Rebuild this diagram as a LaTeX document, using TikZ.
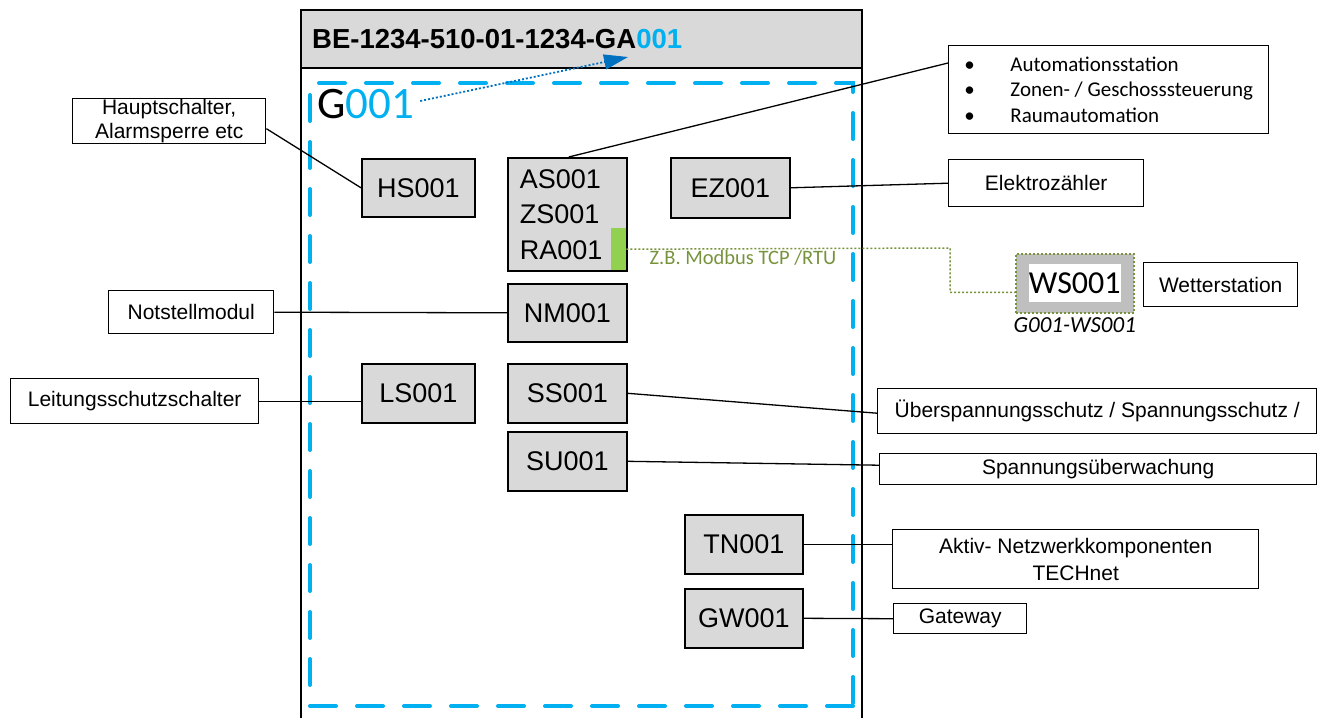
\documentclass[tikz,border=0pt]{standalone}
\usepackage{fontspec}
\setmainfont{Liberation Sans}
\newfontfamily\calibri{Carlito}
\usetikzlibrary{arrows.meta, positioning}

\definecolor{gafill}{HTML}{D9D9D9}
\definecolor{gablue}{HTML}{00B0F0}
\definecolor{refblue}{HTML}{0070C0}
\definecolor{busgreen}{HTML}{77933C}
\definecolor{bargreen}{HTML}{92D050}
\definecolor{wsgray}{HTML}{BFBFBF}

\begin{document}
\begin{tikzpicture}[x=1pt, y=-1pt,
  gbox/.style={rectangle, draw=black, line width=1.6pt, fill=gafill, anchor=north west,
               inner sep=0pt, font=\fontsize{27}{32}\selectfont},
  lbox/.style={rectangle, draw=black, line width=1.4pt, fill=white, anchor=north west,
               inner sep=0pt, align=center, font=\fontsize{21}{24}\selectfont},
  link/.style={line width=1.3pt},
  busline/.style={busgreen, line width=1.5pt, dash pattern=on 2pt off 2pt},
  gaframe/.style={gablue, line width=4pt, line cap=round, dash pattern=on 26pt off 21pt},
  refarr/.style={refblue, line width=1.8pt, dash pattern=on 2pt off 2pt,
                 -{Triangle[length=24pt, width=15pt]}},
]
\useasboundingbox (0,0) rectangle (1327,718);

%% FRAME
\fill[gafill] (301,10) rectangle (862,68);
\draw[line width=2pt] (301,718) -- (301,10) -- (862,10) -- (862,718);
\draw[line width=2pt] (301,68) -- (862,68);
\draw[gaframe] (853,706) -- (310,706) -- (310,83) -- (853,83) -- cycle;

\node[anchor=west, inner sep=0pt, font=\bfseries\fontsize{27.5}{32}\selectfont] (title) at (312,39)
  {BE-1234-510-01-1234-GA\textcolor{gablue}{001}};
\node[anchor=west, inner sep=0pt, font=\calibri\fontsize{45}{50}\selectfont] (gnum) at (317,104)
  {G\textcolor{gablue}{001}};
\coordinate (tip) at (628,57);
\draw[refarr] ([xshift=6pt,yshift=3pt]gnum.east) -- (tip);

%% DEVICES
\node[gbox, minimum width=113pt, minimum height=58pt] (hs) at (361,158) {HS001};
\node[gbox, minimum width=119pt, minimum height=113pt, text width=95pt, inner xsep=12pt,
      align=left, font=\fontsize{27}{35.5}\selectfont] (as) at (507,157) {AS001\\ZS001\\RA001};
\node[fill=bargreen, anchor=north west, minimum width=15pt, minimum height=42pt, inner sep=0pt] (rabar) at (611,228) {};
\node[gbox, minimum width=119pt, minimum height=60pt] (ez) at (670,157) {EZ001};
\node[gbox, minimum width=119pt, minimum height=58pt] (nm) at (507,283) {NM001};
\node[gbox, minimum width=113pt, minimum height=59pt] (ls) at (361,363) {LS001};
\node[gbox, minimum width=119pt, minimum height=59pt] (ss) at (507,363) {SS001};
\node[gbox, minimum width=119pt, minimum height=59pt] (su) at (507,431) {SU001};
\node[gbox, minimum width=118pt, minimum height=59pt] (tn) at (684,514) {TN001};
\node[gbox, minimum width=118pt, minimum height=59pt] (gw) at (684,588) {GW001};

%% WEATHER STATION
\node[fill=wsgray, draw=busgreen, line width=1.5pt, dash pattern=on 2pt off 2pt, anchor=north west,
      minimum width=118pt, minimum height=59pt, inner sep=0pt] (ws) at (1015,253) {};
\node[fill=white, inner sep=0pt, minimum width=90pt, minimum height=38pt,
      font=\calibri\fontsize{32}{36}\selectfont] (wstext) at (ws.center) {WS001};
\node[below=4pt of ws, inner sep=0pt, font=\calibri\itshape\fontsize{23}{27}\selectfont] (wsid) {G001-WS001};

%% LABELS
\node[lbox, minimum width=193pt, minimum height=45pt] (hsl) at (72,98) {Hauptschalter,\\Alarmsperre etc};
\node[lbox, minimum width=320pt, minimum height=88pt, align=left,
      font=\calibri\fontsize{21}{25.5}\selectfont] (asl) at (948,45)
  {\makebox[46pt][l]{\textbullet}Automationsstation\\
   \makebox[46pt][l]{\textbullet}Zonen- / Geschosssteuerung\\
   \makebox[46pt][l]{\textbullet}Raumautomation};
\node[lbox, minimum width=195pt, minimum height=47pt] (ezl) at (948,159) {Elektrozähler};
\node[lbox, minimum width=154pt, minimum height=44pt] (wsl) at (1143,262) {Wetterstation};
\node[lbox, minimum width=165pt, minimum height=43pt] (nml) at (108,290) {Notstellmodul};
\node[lbox, minimum width=248pt, minimum height=45pt] (lsl) at (10,378) {Leitungsschutzschalter};
\node[lbox, minimum width=439pt, minimum height=45pt] (ssl) at (877,388) {Überspannungsschutz / Spannungsschutz /};
\node[lbox, minimum width=437pt, minimum height=31pt] (sul) at (879,453) {Spannungsüberwachung};
\node[lbox, minimum width=366pt, minimum height=59pt, font=\fontsize{21}{27}\selectfont] (tnl) at (892,529)
  {Aktiv- Netzwerkkomponenten\\TECHnet};
\node[lbox, minimum width=133pt, minimum height=30pt] (gwl) at (893,603) {Gateway};

%% CONNECTORS
\draw[link] ([yshift=-7.5pt]hsl.east) -- (hs.west);
\draw[link] ([xshift=1.5pt]as.north) -- ([yshift=-18pt]asl.north west);
\draw[link] (ez.east) -- (ezl.west);
\draw[link] (nml.east) -- (nm.west);
\draw[link] (lsl.east) -- (lsl.east -| ls.west);
\draw[link] (ss.east) -- ([yshift=-2pt]ssl.west);
\draw[link] (su.east) -- ([yshift=4pt]sul.west);
\draw[link] (tn.east) -- (tn.east -| tnl.west);
\draw[link] (gw.east) -- (gwl.west);

\coordinate (busbend) at (950,248);
\draw[busline] (rabar.east) -- (busbend) |- ([yshift=-9pt]ws.west);
\node[anchor=north, inner sep=0pt, text=busgreen, font=\calibri\fontsize{20.5}{23}\selectfont] (buslbl) at (743,250)
  {Z.B. Modbus TCP /RTU};
\end{tikzpicture}
\end{document}
